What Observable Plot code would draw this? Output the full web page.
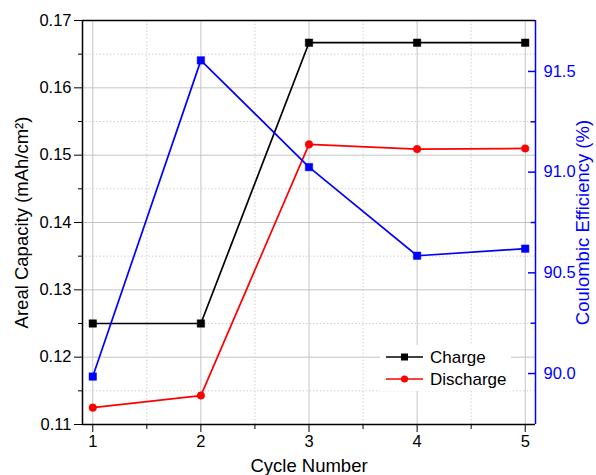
<!DOCTYPE html>
<html>
<head>
<meta charset="utf-8">
<script src="https://cdn.jsdelivr.net/npm/d3@7"></script>
<script src="https://cdn.jsdelivr.net/npm/@observablehq/plot@0.6"></script>
<style>
  html, body { margin: 0; padding: 0; background: white; }
  #wrap { position: relative; width: 596px; height: 475px; font-family: "Liberation Sans", Arial, sans-serif; }
  #wrap svg g[aria-label="x-axis label"] text,
  #wrap svg g[aria-label="y-axis label"] text { font-size: 18.5px; }
  #legend { position: absolute; left: 380px; top: 345px; width: 131px; height: 46px; background: white; }
</style>
</head>
<body>
<div id="wrap"></div>
<script>
const cycles = [1, 2, 3, 4, 5];
const charge = [0.125, 0.125, 0.1667, 0.1667, 0.1667];
const discharge = [0.1125, 0.1143, 0.1516, 0.1509, 0.1510];
const coulombic = [89.985, 91.555, 91.025, 90.585, 90.62];

const xTicks = [1, 2, 3, 4, 5];
const xMinor = [1.5, 2.5, 3.5, 4.5];
const yTicks = [0.11, 0.12, 0.13, 0.14, 0.15, 0.16, 0.17];
const yMinor = [0.115, 0.125, 0.135, 0.145, 0.155, 0.165];
const ceTicks = [90.0, 90.5, 91.0, 91.5];
const ceMinor = [90.25, 90.75, 91.25];

const xDomain = [0.905, 5.095];
const yDomain = [0.11, 0.17];
const ceDomain = [89.747, 91.753];

const toLeft = d3.scaleLinear().domain(ceDomain).range(yDomain);

const rows = cycles.map((c, i) => ({
  cycle: c, charge: charge[i], discharge: discharge[i], ce: toLeft(coulombic[i])
}));

const chart = Plot.plot({
  width: 596, height: 475,
  marginLeft: 82, marginRight: 61, marginTop: 20, marginBottom: 51,
  style: { fontFamily: '"Liberation Sans", Arial, sans-serif', fontSize: "16.5px", color: "black", background: "white", overflow: "visible" },
  x: { domain: xDomain, label: null },
  y: { domain: yDomain, label: null },
  marks: [
    Plot.gridX(xMinor, { stroke: "#d0d0d0", strokeOpacity: 1, strokeDasharray: "1.5,2" }),
    Plot.gridY(yMinor, { stroke: "#d0d0d0", strokeOpacity: 1, strokeDasharray: "1.5,2" }),
    Plot.gridX(xTicks, { stroke: "#c4c4c4", strokeOpacity: 1 }),
    Plot.gridY(yTicks, { stroke: "#c4c4c4", strokeOpacity: 1 }),
    Plot.ruleX([xDomain[0]], { stroke: "black", strokeWidth: 1.5 }),
    Plot.ruleY([yDomain[0]], { stroke: "black", strokeWidth: 1.5 }),
    Plot.ruleY([yDomain[1]], { stroke: "black", strokeWidth: 1.5 }),
    Plot.ruleX([xDomain[1]], { stroke: "blue", strokeWidth: 1.5 }),
    Plot.axisX(xTicks, { tickSize: 8, tickPadding: 3, label: "Cycle Number", labelAnchor: "center", labelOffset: 47, labelArrow: "none" }),
    Plot.axisX(xMinor, { tickSize: 5, tickFormat: () => "", label: null }),
    Plot.axisY(yTicks, { tickSize: 8, tickPadding: 3, tickFormat: d3.format(".2f"), label: "Areal Capacity (mAh/cm²)", labelAnchor: "center", labelOffset: 68, labelArrow: "none" }),
    Plot.axisY(yMinor, { tickSize: 4, tickFormat: () => "", label: null }),
    Plot.axisY(ceTicks.map(toLeft), { anchor: "right", color: "blue", tickSize: 0, tickPadding: 8, tickFormat: d => toLeft.invert(d).toFixed(1), label: "Coulombic Efficiency (%)", labelAnchor: "center", labelOffset: 53, labelArrow: "none" }),
    // inward ticks of the right axis
    Plot.ruleY(ceTicks.map(toLeft), { x1: xDomain[1] - 0.065, x2: xDomain[1], stroke: "blue", strokeWidth: 1.5 }),
    Plot.ruleY(ceMinor.map(toLeft), { x1: xDomain[1] - 0.04, x2: xDomain[1], stroke: "blue", strokeWidth: 1.5 }),
    Plot.line(rows, { x: "cycle", y: "charge", stroke: "black", strokeWidth: 1.7 }),
    Plot.line(rows, { x: "cycle", y: "discharge", stroke: "red", strokeWidth: 1.7 }),
    Plot.line(rows, { x: "cycle", y: "ce", stroke: "blue", strokeWidth: 1.7 }),
    Plot.dot(rows, { x: "cycle", y: "charge", symbol: "square", r: 4.2, fill: "black", stroke: "black", strokeWidth: 0.5 }),
    Plot.dot(rows, { x: "cycle", y: "discharge", symbol: "circle", r: 3.8, fill: "red", stroke: "red", strokeWidth: 0.5 }),
    Plot.dot(rows, { x: "cycle", y: "ce", symbol: "square", r: 4.2, fill: "blue", stroke: "blue", strokeWidth: 0.5 })
  ]
});

const wrap = document.getElementById("wrap");
wrap.appendChild(chart);

// Legend (HTML overlay with white background)
const legendItems = [
  { name: "Charge", color: "black", shape: "square" },
  { name: "Discharge", color: "red", shape: "circle" }
];
const legend = document.createElement("div");
legend.id = "legend";
const ns = "http://www.w3.org/2000/svg";
const lsvg = document.createElementNS(ns, "svg");
lsvg.setAttribute("width", "131");
lsvg.setAttribute("height", "46");
lsvg.style.overflow = "visible";
legendItems.forEach((it, i) => {
  const cy = 12 + i * 22;
  const line = document.createElementNS(ns, "line");
  line.setAttribute("x1", 6); line.setAttribute("x2", 43);
  line.setAttribute("y1", cy); line.setAttribute("y2", cy);
  line.setAttribute("stroke", it.color); line.setAttribute("stroke-width", 1.7);
  lsvg.appendChild(line);
  let m;
  if (it.shape === "square") {
    m = document.createElementNS(ns, "rect");
    m.setAttribute("x", 24.5 - 3.5); m.setAttribute("y", cy - 3.5);
    m.setAttribute("width", 7); m.setAttribute("height", 7);
  } else {
    m = document.createElementNS(ns, "circle");
    m.setAttribute("cx", 24.5); m.setAttribute("cy", cy); m.setAttribute("r", 3.6);
  }
  m.setAttribute("fill", it.color);
  lsvg.appendChild(m);
  const t = document.createElementNS(ns, "text");
  t.setAttribute("x", 50); t.setAttribute("y", cy);
  t.setAttribute("dy", "0.35em");
  t.setAttribute("font-size", "17");
  t.setAttribute("font-family", '"Liberation Sans", Arial, sans-serif');
  t.textContent = it.name;
  lsvg.appendChild(t);
});
legend.appendChild(lsvg);
wrap.appendChild(legend);
</script>
</body>
</html>
